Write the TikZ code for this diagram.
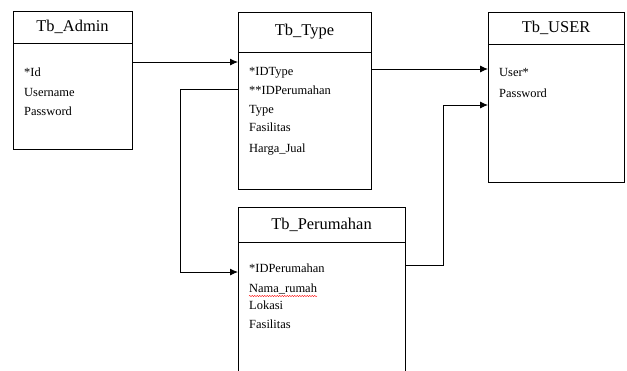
\documentclass[tikz,border=0pt]{standalone}
\usepackage{fontspec}
\setmainfont{Liberation Serif}
\usetikzlibrary{positioning,arrows.meta,decorations.pathmorphing}

\begin{document}
\begin{tikzpicture}[
    x=1bp, y=-1bp,
    judul/.style={draw, line width=0.9pt, outer sep=0pt, inner sep=0pt, anchor=north west, minimum width=#1, font=\fontsize{16.5}{18}\selectfont},
    isi/.style={draw, line width=0.9pt, outer sep=0pt, inner sep=0pt, minimum width=#1},
    atribut/.style={anchor=north west, align=left, inner sep=0pt, font=\fontsize{12.5}{19.5}\selectfont},
    arrow/.style={-{Latex[length=8bp,width=7bp]}, line width=0.9pt}
]
    \path[use as bounding box, clip] (0,0) rectangle (627,370);

    % tabel-tabel
    \node[judul=119bp, minimum height=32bp] (admin) at (13,11) {Tb\_Admin};
    \node[isi=119bp, minimum height=106bp, below=0pt of admin] (admin-isi) {};
    \node[judul=133bp, minimum height=40bp] (type) at (238,12) {Tb\_Type};
    \node[isi=133bp, minimum height=137bp, below=0pt of type] (type-isi) {};
    \node[judul=136bp, minimum height=32bp] (user) at (488,12) {Tb\_USER};
    \node[isi=136bp, minimum height=138bp, below=0pt of user] (user-isi) {};
    \node[judul=167bp, minimum height=35bp] (perumahan) at (238,207) {Tb\_Perumahan};
    \node[isi=167bp, minimum height=150bp, below=0pt of perumahan] (perumahan-isi) {};

    % atribut
    \node[atribut] (admin-atr) at (24,68) {*Id\\Username\\Password};
    \node[atribut] (type-atr) at (249,67) {*IDType\\**IDPerumahan\\[-0.5bp]Type\\[-1.5bp]Fasilitas\\[1.5bp]Harga\_Jual};
    \node[atribut] (user-atr) at (499,68) {User*\\[1.5bp]Password};
    \node[atribut] (perumahan-atr) at (249,264) {*IDPerumahan\\Nama\_rumah\\[-2.5bp]Lokasi\\Fasilitas};
    \draw[red, line width=0.4pt, decorate, decoration={snake, amplitude=0.6bp, segment length=2.5bp}] (249,296) -- (317,296);

    % relasi
    \coordinate (a1) at ([yshift=-19bp]admin-isi.north east);
    \coordinate (t1) at ([yshift=-17bp]type-isi.north east);
    \coordinate (t2) at ([yshift=-37bp]type-isi.north west);
    \coordinate (p1) at ([yshift=-30bp]perumahan-isi.north west);
    \coordinate (p2) at ([yshift=-23bp]perumahan-isi.north east);
    \coordinate (u2) at ([yshift=-61bp]user-isi.north west);

    \draw[arrow] (a1) -- (a1 -| type-isi.west);
    \draw[arrow] (t1) -- (t1 -| user-isi.west);
    \draw[arrow] (t2) -- ++(-58,0) |- (p1);
    \draw[arrow] (p2) -- ++(38,0) |- (u2);
\end{tikzpicture}
\end{document}
